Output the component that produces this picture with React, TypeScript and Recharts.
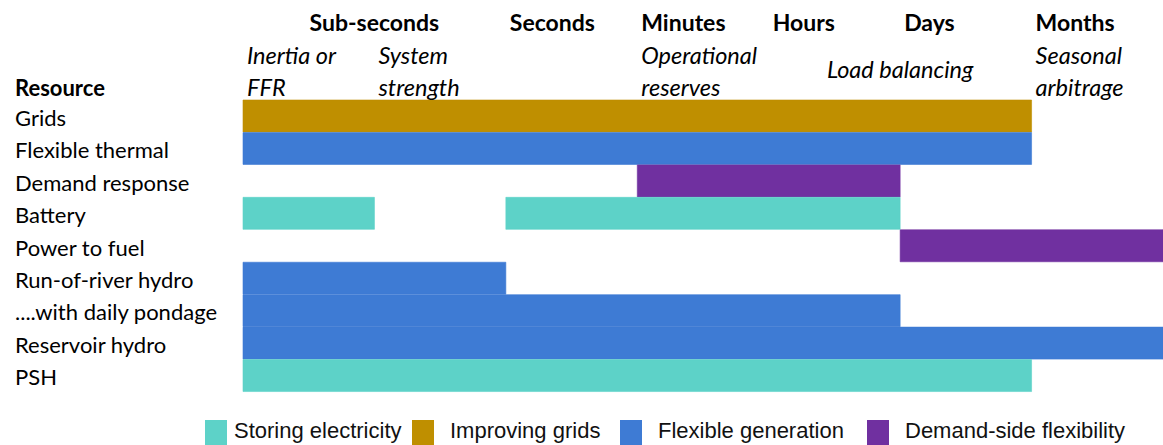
import React from 'react';
import { BarChart, Bar, XAxis, YAxis, Cell, Label } from 'recharts';

// rows, top to bottom
const resources = [
  'Grids',
  'Flexible thermal',
  'Demand response',
  'Battery',
  'Power to fuel',
  'Run-of-river hydro',
  '....with daily pondage',
  'Reservoir hydro',
  'PSH',
];
// column index where each range starts / ends (0 = sub-seconds ... 7 = end of months)
const start1 = [0, 0, 3, 0, 5, 0, 0, 0, 0];
const end1 = [6, 6, 5, 1, 7, 2, 5, 7, 6];
const start2 = [0, 0, 0, 2, 0, 0, 0, 0, 0];
const end2 = [0, 0, 0, 5, 0, 0, 0, 0, 0];
const group = ['grids', 'generation', 'demand', 'storage', 'demand', 'generation', 'generation', 'generation', 'storage'];

// time-scale headings and their positions on the column scale
const headerPos = [1, 2, 3, 4, 5, 6];
const headerLabels = ['Sub-seconds', 'Seconds', 'Minutes', 'Hours', 'Days', 'Months'];
const subPos = [0, 1, 3, 5, 6];
const subLabels = [['Inertia or', 'FFR'], ['System', 'strength'], ['Operational', 'reserves'], ['Load balancing'], ['Seasonal', 'arbitrage']];
const axisTicks = [0, 1, 2, 3, 4, 5, 6];

const legendKeys = ['storage', 'grids', 'generation', 'demand'];
const legendLabels = ['Storing electricity', 'Improving grids', 'Flexible generation', 'Demand-side flexibility'];

const colors: Record<string, string> = {
  storage: '#5DD2C8',
  grids: '#BF8F00',
  generation: '#3E7BD4',
  demand: '#7030A0',
};

const FONT = 'Lato, sans-serif';

const data = resources.map((name, i) => ({
  name,
  off1: start1[i],
  seg1: end1[i] - start1[i],
  off2: end2[i] > 0 ? start2[i] - end1[i] : 0,
  seg2: end2[i] - start2[i],
  color: colors[group[i]],
}));

const TopTick = (props: any) => {
  const { x, payload } = props;
  const v = payload.value;
  const h = headerPos.indexOf(v);
  const s = subPos.indexOf(v);
  const out: React.ReactNode[] = [];
  if (h >= 0) {
    const centered = h === 0;
    out.push(
      <text key="h" x={centered ? x : x + 4} y={22} textAnchor={centered ? 'middle' : 'start'} dominantBaseline="central"
        fontFamily={FONT} fontWeight={700} fontSize={23} fill="#000">
        {headerLabels[h]}
      </text>
    );
  }
  if (s >= 0) {
    const lines = subLabels[s];
    if (lines.length === 1) {
      out.push(
        <text key="s" x={x} y={69} textAnchor="middle" dominantBaseline="central"
          fontFamily={FONT} fontStyle="italic" fontSize={23.5} fill="#000">{lines[0]}</text>
      );
    } else {
      lines.forEach((l, k) =>
        out.push(
          <text key={'s' + k} x={x + 4} y={55 + k * 32} textAnchor="start" dominantBaseline="central"
            fontFamily={FONT} fontStyle="italic" fontSize={23.5} fill="#000">{l}</text>
        )
      );
    }
  }
  return <g>{out}</g>;
};

const RowTick = (props: any) => {
  const { y, payload } = props;
  return (
    <text x={15} y={y + 1} textAnchor="start" dominantBaseline="central" fontFamily={FONT} fontSize={22} fill="#000">
      {payload.value}
    </text>
  );
};

export default function App() {
  return (
    <div style={{ position: 'absolute', left: 0, top: 0, width: 1163, height: 445, background: '#fff' }}>
      <BarChart
        width={1163}
        height={445}
        data={data}
        layout="vertical"
        barCategoryGap={0}
        margin={{ top: 0, right: 0, bottom: 53, left: 0 }}
      >
        <XAxis type="number" domain={[0, 7]} orientation="top" height={100} ticks={axisTicks}
          interval={0} axisLine={false} tickLine={false} tick={<TopTick />} />
        <YAxis type="category" dataKey="name" width={243} axisLine={false} tickLine={false} interval={0} tick={<RowTick />}>
          <Label content={() => (
            <text x={15} y={87} dominantBaseline="central" fontFamily={FONT} fontWeight={700} fontSize={22} fill="#000">Resource</text>
          )} />
        </YAxis>
        <Bar dataKey="off1" stackId="r" fill="transparent" isAnimationActive={false} />
        <Bar dataKey="seg1" stackId="r" isAnimationActive={false}>
          {data.map((d, i) => <Cell key={i} fill={d.color} stroke={d.color} strokeWidth={0.6} />)}
        </Bar>
        <Bar dataKey="off2" stackId="r" fill="transparent" isAnimationActive={false} />
        <Bar dataKey="seg2" stackId="r" isAnimationActive={false}>
          {data.map((d, i) => <Cell key={i} fill={d.color} stroke={d.color} strokeWidth={0.6} />)}
        </Bar>
      </BarChart>
      {legendKeys.map((k, i) => {
        const left = [205, 412, 620, 867][i];
        return (
          <div key={k} style={{ position: 'absolute', left, top: 420, display: 'flex', alignItems: 'flex-start' }}>
            <div style={{ width: 22, height: 25, background: colors[k] }} />
            <span style={{ marginLeft: i === 0 ? 7 : 16, fontFamily: '"Liberation Sans", Arial, sans-serif', fontSize: 22, lineHeight: '22px', color: '#111' }}>
              {legendLabels[i]}
            </span>
          </div>
        );
      })}
    </div>
  );
}
